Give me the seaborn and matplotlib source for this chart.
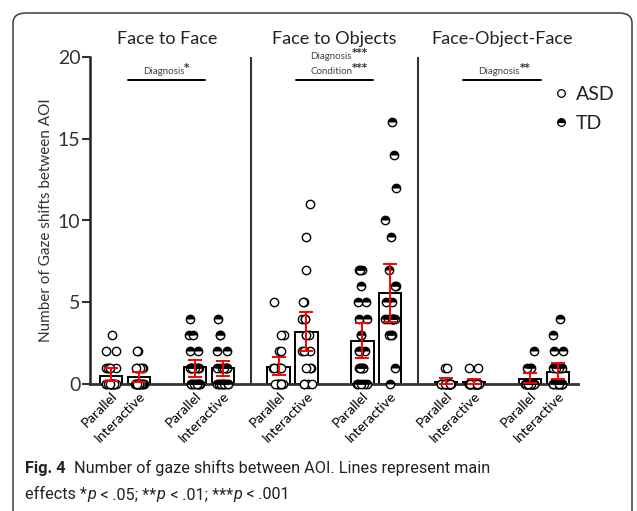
import numpy as np
import pandas as pd
import seaborn as sns
import matplotlib.pyplot as plt
from matplotlib.lines import Line2D
from matplotlib.markers import MarkerStyle
from matplotlib.patches import FancyBboxPatch

sns.set_style("white")
plt.rcParams['font.family'] = ['Lato', 'DejaVu Sans']

# ---- data ----
panels = ["Face to Face", "Face to Objects", "Face-Object-Face"]
diagnoses = ["ASD", "TD"]
conditions = ["Parallel", "Interactive"]

# score values and how many children had each, per bar
# order: panel -> diagnosis -> condition
point_values = [
    [0, 1, 2, 3], [0, 1, 2],
    [0, 1, 2, 3, 4], [0, 1, 2, 3, 4],
    [0, 1, 2, 3, 5], [0, 1, 2, 3, 4, 5, 7, 9, 11],
    [0, 1, 2, 3, 4, 5, 6, 7], [0, 1, 3, 4, 5, 6, 7, 9, 10, 12, 14, 16],
    [0, 1], [0, 1],
    [0, 1, 2], [0, 1, 2, 3, 4],
]
point_counts = [
    [13, 5, 2, 1], [14, 5, 2],
    [10, 8, 2, 2, 1], [10, 8, 2, 2, 1],
    [8, 8, 2, 2, 1], [4, 3, 3, 3, 3, 2, 1, 1, 1],
    [5, 5, 3, 2, 2, 2, 1, 3], [1, 1, 3, 8, 2, 2, 1, 1, 1, 1, 1, 1],
    [19, 2], [19, 2],
    [19, 3, 1], [12, 7, 2, 1, 1],
]
bar_means = [0.5, 0.4, 1.05, 1.0, 1.06, 3.18, 2.63, 5.55, 0.1, 0.1, 0.3, 0.75]
err_low = [0.18, 0.15, 0.45, 0.49, 0.53, 2.04, 1.59, 3.77, 0.0, 0.0, 0.08, 0.32]
err_high = [1.0, 0.75, 1.47, 1.43, 1.63, 4.42, 3.71, 7.32, 0.37, 0.28, 0.65, 1.26]

stats_text = [["Diagnosis"], ["Diagnosis", "Condition"], ["Diagnosis"]]
stats_stars = [["*"], ["***", "***"], ["**"]]

# ---- build tables ----
slots, slot_labels, bar_slots = [], [], []
for p, panel in enumerate(panels):
    for d, dx in enumerate(diagnoses):
        if p or d:
            slots.append("gap%d%d" % (p, d))
            slot_labels.append("")
        for c in conditions:
            name = "%s|%s|%s" % (panel, dx, c)
            slots.append(name)
            slot_labels.append(c)
            bar_slots.append(name)

rows = []
for name, vals, cnts in zip(bar_slots, point_values, point_counts):
    dx = name.split("|")[1]
    for v, n in zip(vals, cnts):
        rows += [(name, dx, v)] * n
points = pd.DataFrame(rows, columns=["slot", "diagnosis", "value"])
bars = pd.DataFrame({"slot": bar_slots, "mean": bar_means,
                     "lo": err_low, "hi": err_high})

# ---- figure ----
fig = plt.figure(figsize=(6.37, 5.11), dpi=100)
W, H = 637, 511
fig.patches.append(FancyBboxPatch((13 / W, -20 / H), 619 / W, 518 / H,
                                  boxstyle="round,pad=0,rounding_size=0.02",
                                  transform=fig.transFigure, fc="white",
                                  ec="#3a3a3a", lw=1.1, zorder=-1))
ax = fig.add_axes([90 / W, 127 / H, 488 / W, 327 / H])
ax.patch.set_alpha(0)

sns.barplot(data=bars, x="slot", y="mean", order=slots, color="white",
            edgecolor="black", linewidth=1.4, width=0.8, errorbar=None,
            saturation=1, ax=ax)

np.random.seed(7)
kw = dict(x="slot", y="value", order=slots, jitter=0.2, size=6,
          linewidth=1.0, edgecolor="black", ax=ax, zorder=3, clip_on=False)
sns.stripplot(data=points[points.diagnosis == "ASD"], color="white", **kw)
n0 = len(ax.collections)
sns.stripplot(data=points[points.diagnosis == "TD"], color="white", **kw)
half = MarkerStyle("o", fillstyle="top")
for coll in ax.collections[n0:]:
    offs = coll.get_offsets()
    if len(offs):
        ax.scatter(offs[:, 0], offs[:, 1], marker=half, s=36, c="black",
                   linewidths=0, zorder=3.5, clip_on=False)

xpos = [slots.index(s) for s in bars.slot]
ax.errorbar(xpos, bars["mean"], yerr=[bars["mean"] - bars.lo, bars.hi - bars["mean"]],
            fmt="none", ecolor="red", elinewidth=1.4, capsize=5, capthick=1.4,
            zorder=5, clip_on=False)

ax.set_ylim(0, 20)
ax.set_xlim(-0.75, len(slots) - 1 + 0.72)
ax.set_yticks([0, 5, 10, 15, 20])
ax.tick_params(axis="y", labelsize=14, length=6, width=1.5, direction="out",
               left=True, pad=1, colors="#333")
ax.set_xticks(range(len(slots)))
ax.set_xticklabels(slot_labels, rotation=45, ha="right", rotation_mode="anchor",
                   fontsize=10, color="black")
ax.tick_params(axis="x", length=0, pad=4)
ax.set_xlabel("")
ax.set_ylabel("Number of Gaze shifts between AOI", fontsize=11, color="#333",
              labelpad=3)
for s in ["top", "right"]:
    ax.spines[s].set_visible(False)
ax.spines["left"].set_linewidth(1.8)
ax.spines["left"].set_color("#222")
ax.spines["bottom"].set_linewidth(2)
ax.spines["bottom"].set_color("#333")

# panel dividers, titles and main-effect lines
for p, panel in enumerate(panels):
    centre = slots.index("gap%d1" % p)
    if p:
        ax.axvline(slots.index("gap%d0" % p), color="#333", lw=1.5)
    ax.text(centre, 20.6, panel, ha="center", va="bottom", fontsize=13,
            color="#222")
    ax.plot([centre - 1.38, centre + 1.38], [18.6, 18.6], color="black", lw=1.4)
    labs = stats_text[p]
    for i, (lab, st) in enumerate(zip(labs, stats_stars[p])):
        yy = 18.85 + 0.9 * (len(labs) - 1 - i)
        t = ax.text(centre - 0.12, yy, lab, ha="center", va="bottom",
                    fontsize=7, color="#444")
        ax.annotate(st, xy=(1, 0.35), xycoords=t, ha="left", va="bottom",
                    fontsize=7.5, fontweight="bold", family="DejaVu Sans",
                    color="#333")

handles = [Line2D([], [], ls="none", marker="o", ms=5.5, mfc="white",
                  mec="black", mew=0.9),
           Line2D([], [], ls="none", marker="o", ms=5.5, fillstyle="top",
                  mfc="black", mfcalt="white", mec="black", mew=0.9)]
leg = ax.legend(handles, diagnoses, loc="upper left", bbox_to_anchor=(0.86, 0.847),
                bbox_transform=fig.transFigure, frameon=False, fontsize=14,
                handlelength=0.6, handletextpad=0.45, labelspacing=0.6,
                borderaxespad=0)
for t in leg.get_texts():
    t.set_color("#222")

# caption with bold / italic pieces
cap = [
    (473, [("Fig. 4", "bold", "normal"),
           ("  Number of gaze shifts between AOI. Lines represent main", "normal", "normal")]),
    (499, [("effects *", "normal", "normal"), ("p", "normal", "italic"),
           ("\u2009<\u2009.05; **", "normal", "normal"), ("p", "normal", "italic"),
           ("\u2009<\u2009.01; ***", "normal", "normal"), ("p", "normal", "italic"),
           ("\u2009<\u2009.001", "normal", "normal")]),
]
fig.canvas.draw()
rend = fig.canvas.get_renderer()
for base, pieces in cap:
    x = 25
    for txt, wt, st in pieces:
        t = fig.text(x / W, 1 - base / H, txt, fontsize=11.7, fontweight=wt,
                     fontstyle=st, family=["Roboto", "DejaVu Sans"],
                     color="#222", va="baseline", ha="left")
        x += t.get_window_extent(rend).width + (1.5 if st == "italic" else 0)

fig.savefig("out.png", dpi=100)
